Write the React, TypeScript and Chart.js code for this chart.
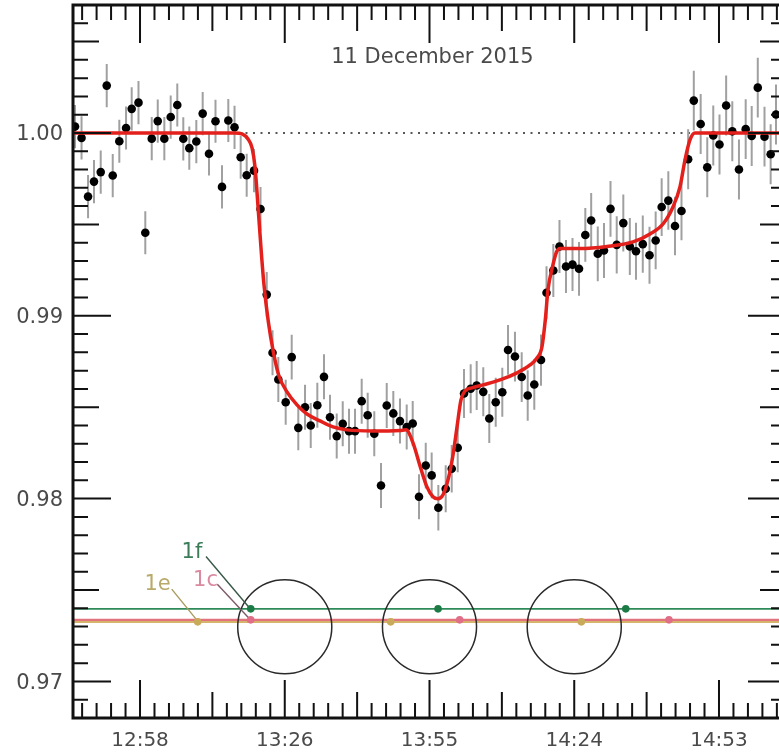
import React, { useEffect, useRef } from 'react';
import { Chart, registerables } from 'chart.js';

Chart.register(...registerables);

// ---- Data (time as fraction of the day, UT) ----
const times = [
  0.53102, 0.53192, 0.53282, 0.53364, 0.53457, 0.5354, 0.53623, 0.53714, 0.53807, 0.53885,
  0.53979, 0.54073, 0.54162, 0.54245, 0.54336, 0.54424, 0.54515, 0.54598, 0.54681, 0.54778,
  0.54866, 0.54953, 0.55043, 0.55133, 0.5522, 0.55306, 0.55391, 0.55474, 0.55575, 0.55665,
  0.55751, 0.55831, 0.55911, 0.56013, 0.56096, 0.56187, 0.5628, 0.56359, 0.5645, 0.56542,
  0.56625, 0.56718, 0.56801, 0.56888, 0.56971, 0.57063, 0.57146, 0.57237, 0.5733, 0.57409,
  0.575, 0.57592, 0.57685, 0.57768, 0.57855, 0.57948, 0.5803, 0.58122, 0.58224, 0.58307,
  0.5839, 0.58477, 0.58569, 0.58652, 0.58743, 0.58826, 0.58915, 0.59006, 0.59085, 0.59181,
  0.59274, 0.59357, 0.59448, 0.59541, 0.59617, 0.59711, 0.59796, 0.59886, 0.59976, 0.60066,
  0.60153, 0.60234, 0.60325, 0.60411, 0.60501, 0.60587, 0.60678, 0.60768, 0.60853, 0.60947,
  0.6104, 0.61125, 0.61208, 0.613, 0.61392, 0.61482, 0.61574, 0.61652, 0.61747, 0.61838,
  0.61921, 0.62007, 0.62099, 0.62184, 0.62276, 0.62369, 0.62452, 0.62536, 0.62629, 0.62714,
  0.62788,
];

const flux = [
  1.00035, 0.99973, 0.99652, 0.99734, 0.99786, 1.00259, 0.99767, 0.99955, 1.00027, 1.00132,
  1.00166, 0.99454, 0.99969, 1.00065, 0.99969, 1.00087, 1.00153, 0.99968, 0.99917, 0.99953,
  1.00106, 0.99886, 1.00064, 0.99705, 1.00068, 1.00031, 0.99867, 0.99769, 0.99794, 0.99584,
  0.99116, 0.98798, 0.98652, 0.98527, 0.98774, 0.98387, 0.985, 0.984, 0.98511, 0.98666,
  0.98445, 0.98342, 0.98409, 0.98369, 0.98369, 0.98533, 0.98456, 0.98355, 0.98072, 0.98509,
  0.98466, 0.98424, 0.98392, 0.98411, 0.9801, 0.98181, 0.98127, 0.9795, 0.98054, 0.98163,
  0.98278, 0.98575, 0.98601, 0.98619, 0.98584, 0.98438, 0.98527, 0.98582, 0.98813, 0.98777,
  0.98665, 0.98564, 0.98624, 0.98758, 0.99126, 0.99248, 0.99379, 0.9927, 0.9928, 0.99257,
  0.99442, 0.99521, 0.99339, 0.99357, 0.99585, 0.99388, 0.99507, 0.99379, 0.99353, 0.99392,
  0.99331, 0.99412, 0.99595, 0.9963, 0.99491, 0.99573, 0.99856, 1.00177, 1.00049, 0.99812,
  0.99986, 0.99937, 1.0015, 1.00009, 0.998, 1.00021, 0.99984, 1.00248, 0.9998, 0.99884,
  1.00101,
];

const fluxErr = [
  0.00118, 0.00118, 0.00118, 0.00118, 0.00118, 0.00118, 0.00118, 0.00118, 0.00118, 0.00118,
  0.00118, 0.00118, 0.00118, 0.00118, 0.00118, 0.00118, 0.00118, 0.00118, 0.00118, 0.00118,
  0.00118, 0.00118, 0.00118, 0.00118, 0.00118, 0.00118, 0.00118, 0.00118, 0.00118, 0.0012,
  0.00123, 0.00123, 0.00123, 0.00123, 0.00123, 0.00123, 0.00123, 0.00123, 0.00123, 0.00123,
  0.00123, 0.00123, 0.00123, 0.00123, 0.00123, 0.00123, 0.00123, 0.00123, 0.00123, 0.00123,
  0.00123, 0.00123, 0.00123, 0.00123, 0.00123, 0.00125, 0.00125, 0.00125, 0.00128, 0.0013,
  0.00134, 0.00134, 0.00134, 0.00134, 0.00134, 0.00134, 0.00134, 0.00134, 0.00136, 0.00136,
  0.00136, 0.00138, 0.00138, 0.0014, 0.00145, 0.00145, 0.00145, 0.00145, 0.00145, 0.00147,
  0.00147, 0.0015, 0.0015, 0.0015, 0.00152, 0.00156, 0.00156, 0.00156, 0.00156, 0.00156,
  0.00156, 0.00158, 0.00158, 0.0016, 0.0016, 0.0016, 0.00164, 0.00164, 0.00164, 0.00164,
  0.00164, 0.00164, 0.00164, 0.00164, 0.00164, 0.00164, 0.00164, 0.00164, 0.00164, 0.00164,
  0.00164,
];

// ---- Model fit (red curve) ----
const modelTimes = [
  0.53074, 0.55313, 0.55409, 0.55492, 0.55548, 0.55589, 0.55635, 0.55682, 0.55713, 0.55773,
  0.55842, 0.5592, 0.56031, 0.56169, 0.56307, 0.56487, 0.56667, 0.5686, 0.57219, 0.57592,
  0.57675, 0.57772, 0.57869, 0.57965, 0.58048, 0.58117, 0.58187, 0.58256, 0.58325, 0.5838,
  0.58435, 0.58491, 0.58587, 0.58739, 0.58974, 0.59209, 0.59389, 0.59485, 0.59554, 0.596,
  0.59637, 0.59699, 0.59755, 0.59803, 0.6008, 0.60453, 0.60812, 0.61047, 0.61227, 0.61364,
  0.61461, 0.6153, 0.61599, 0.61668, 0.62926,
];
const modelFlux = [
  1.0, 1.0, 0.99995, 0.99967, 0.99918, 0.99814, 0.99573, 0.99316, 0.99169, 0.98967,
  0.98803, 0.98671, 0.98584, 0.98513, 0.98463, 0.98425, 0.98392, 0.98376, 0.9837, 0.98373,
  0.98376, 0.98305, 0.98179, 0.98064, 0.9801, 0.97999, 0.98021, 0.98103, 0.98239, 0.98392,
  0.9854, 0.98589, 0.98606, 0.98622, 0.98649, 0.98688, 0.98731, 0.98769, 0.9883, 0.98977,
  0.99142, 0.99267, 0.99349, 0.99368, 0.99368, 0.99379, 0.99404, 0.99448, 0.99502, 0.99595,
  0.99705, 0.99852, 0.99962, 1.0, 1.0,
];

// ---- Axes ----
const xMin = 0.53074;
const xMax = 0.62926;
const yMin = 0.968;
const yMax = 1.007;
const xTickValues = [0.54, 0.56, 0.58, 0.6, 0.62];
const xTickLabels = ['12:58', '13:26', '13:55', '14:24', '14:53'];
const yTickValues = [0.97, 0.98, 0.99, 1.0];
const yTickLabels = ['0.97', '0.98', '0.99', '1.00'];
const chartTitle = '11 December 2015';
const titleAt = 0.5804;

// ---- Planet transit markers ----
const planetNames = ['1f', '1c', '1e'];
const planetLevels = [0.97397, 0.97337, 0.97326];
const planetTimes = [
  [0.5553, 0.58118, 0.60712],
  [0.5553, 0.58417, 0.61309],
  [0.54797, 0.57464, 0.60098],
];
const planetLabelAt = [
  [0.54718, 0.97676],
  [0.54905, 0.9752],
  [0.54242, 0.97501],
];
const planetLeaders = [
  [0.54912, 0.97683, 0.55496, 0.9741],
  [0.55068, 0.97532, 0.55496, 0.9735],
  [0.54438, 0.97505, 0.54783, 0.97337],
];
const circleTimes = [0.56, 0.58, 0.6];
const circleLevel = 0.97299;
const circleRadiusDays = 0.0065;

const planetLineColors = ['#2f8a5a', '#e2737e', '#d6b46c'];
const planetLineWidths = [1.6, 2.4, 2.2];
const planetDotColors = ['#1c7a45', '#e06e86', '#c9a95a'];
const planetTextColors = ['#3a7d58', '#d98aa0', '#b8aa6a'];
const planetLeaderColors = ['#385848', '#7d5a68', '#a99a5e'];

const FONT = '"DejaVu Sans", "Liberation Sans", Arial, sans-serif';
const TEXT_COLOR = '#4a4a4a';

const decorPlugin = {
  id: 'decor',
  beforeDatasetsDraw(chart: any) {
    const { ctx, chartArea: a, scales } = chart;
    const xs = scales.x;
    const ys = scales.y;
    ctx.save();
    ctx.beginPath();
    ctx.rect(a.left, a.top, a.right - a.left, a.bottom - a.top);
    ctx.clip();

    // dotted reference line at 1.00
    ctx.setLineDash([2, 5.5]);
    ctx.lineWidth = 1.5;
    ctx.strokeStyle = '#222';
    const y1 = ys.getPixelForValue(1.0);
    ctx.beginPath();
    ctx.moveTo(a.left, y1);
    ctx.lineTo(a.right, y1);
    ctx.stroke();
    ctx.setLineDash([]);

    // planet level lines (tan first, then pink, then green)
    [2, 1, 0].forEach((p) => {
      const py = ys.getPixelForValue(planetLevels[p]);
      ctx.strokeStyle = planetLineColors[p];
      ctx.lineWidth = planetLineWidths[p];
      ctx.beginPath();
      ctx.moveTo(a.left, py);
      ctx.lineTo(a.right, py);
      ctx.stroke();
    });

    // circles
    ctx.strokeStyle = '#2a2a2a';
    ctx.lineWidth = 1.5;
    circleTimes.forEach((c) => {
      const cx = xs.getPixelForValue(c);
      const cy = ys.getPixelForValue(circleLevel);
      const r = xs.getPixelForValue(c + circleRadiusDays) - cx;
      ctx.beginPath();
      ctx.arc(cx, cy, r, 0, Math.PI * 2);
      ctx.stroke();
    });

    // leader lines
    planetLeaders.forEach((l, p) => {
      ctx.strokeStyle = planetLeaderColors[p];
      ctx.lineWidth = 1.4;
      ctx.beginPath();
      ctx.moveTo(xs.getPixelForValue(l[0]), ys.getPixelForValue(l[1]));
      ctx.lineTo(xs.getPixelForValue(l[2]), ys.getPixelForValue(l[3]));
      ctx.stroke();
    });

    // dots
    planetTimes.forEach((arr, p) => {
      ctx.fillStyle = planetDotColors[p];
      arr.forEach((t) => {
        ctx.beginPath();
        ctx.arc(xs.getPixelForValue(t), ys.getPixelForValue(planetLevels[p]), 3.8, 0, Math.PI * 2);
        ctx.fill();
      });
    });

    // labels
    ctx.font = `21px ${FONT}`;
    ctx.textAlign = 'center';
    ctx.textBaseline = 'alphabetic';
    planetNames.forEach((n, p) => {
      ctx.fillStyle = planetTextColors[p];
      ctx.fillText(n, xs.getPixelForValue(planetLabelAt[p][0]), ys.getPixelForValue(planetLabelAt[p][1]));
    });

    // error bars
    ctx.strokeStyle = '#a0a0a0';
    ctx.lineWidth = 2;
    ctx.beginPath();
    times.forEach((t, i) => {
      const px = xs.getPixelForValue(t);
      ctx.moveTo(px, ys.getPixelForValue(flux[i] + fluxErr[i]));
      ctx.lineTo(px, ys.getPixelForValue(flux[i] - fluxErr[i]));
    });
    ctx.stroke();
    ctx.restore();
  },
  afterDatasetsDraw(chart: any) {
    const { ctx, chartArea: a, scales } = chart;
    const xs = scales.x;
    const ys = scales.y;
    ctx.save();

    // ticks
    ctx.strokeStyle = '#111';
    ctx.lineWidth = 2;
    ctx.beginPath();
    for (let k = 969; k <= 1006; k++) {
      const len = k % 10 === 0 ? 38 : k % 5 === 0 ? 26 : 15;
      const py = ys.getPixelForValue(k / 1000);
      ctx.moveTo(a.left, py);
      ctx.lineTo(a.left + len, py);
      ctx.moveTo(a.right, py);
      ctx.lineTo(a.right - len, py);
    }
    for (let k = 266; k <= 314; k++) {
      const len = k % 10 === 0 ? 38 : k % 5 === 0 ? 26 : 15;
      const px = xs.getPixelForValue(k * 0.002);
      ctx.moveTo(px, a.bottom);
      ctx.lineTo(px, a.bottom - len);
      ctx.moveTo(px, a.top);
      ctx.lineTo(px, a.top + len);
    }
    ctx.stroke();

    // frame
    ctx.strokeStyle = '#111';
    ctx.lineWidth = 3;
    ctx.strokeRect(a.left, a.top, a.right - a.left, a.bottom - a.top);

    // tick labels
    ctx.fillStyle = TEXT_COLOR;
    ctx.font = `21px ${FONT}`;
    ctx.textAlign = 'right';
    ctx.textBaseline = 'alphabetic';
    yTickValues.forEach((v, i) => {
      ctx.fillText(yTickLabels[i], a.left - 10, ys.getPixelForValue(v) + 7.5);
    });
    ctx.font = `20px ${FONT}`;
    ctx.textAlign = 'center';
    xTickValues.forEach((v, i) => {
      ctx.fillText(xTickLabels[i], xs.getPixelForValue(v), a.bottom + 28);
    });

    // title
    ctx.font = `21px ${FONT}`;
    ctx.fillText(chartTitle, xs.getPixelForValue(titleAt), a.top + 58);
    ctx.restore();
  },
};

export default function App() {
  const ref = useRef<HTMLCanvasElement>(null);
  useEffect(() => {
    if (!ref.current) return;
    const chart = new Chart(ref.current, {
      type: 'scatter',
      data: {
        datasets: [
          {
            label: 'model',
            data: modelTimes.map((t, i) => ({ x: t, y: modelFlux[i] })),
            showLine: true,
            borderColor: '#e3201b',
            borderWidth: 3.5,
            pointRadius: 0,
            cubicInterpolationMode: 'monotone',
            fill: false,
            order: 1,
          } as any,
          {
            label: 'data',
            data: times.map((t, i) => ({ x: t, y: flux[i] })),
            backgroundColor: '#000',
            borderColor: '#000',
            pointRadius: 4.3,
            pointBorderWidth: 0,
            order: 2,
          },
        ],
      },
      options: {
        animation: false,
        responsive: false,
        layout: { padding: { left: 73, top: 5, right: 14, bottom: 34 } },
        scales: {
          x: { type: 'linear', min: xMin, max: xMax, display: false },
          y: { type: 'linear', min: yMin, max: yMax, display: false },
        },
        plugins: { legend: { display: false }, tooltip: { enabled: false } },
      },
      plugins: [decorPlugin],
    });
    return () => chart.destroy();
  }, []);
  return (
    <div
      style={{
        position: 'fixed',
        left: 0,
        top: 0,
        width: 779,
        height: 752,
        overflow: 'hidden',
        background: '#fff',
      }}
    >
      <canvas ref={ref} width={800} height={752} style={{ width: 800, height: 752, display: 'block' }} />
    </div>
  );
}
